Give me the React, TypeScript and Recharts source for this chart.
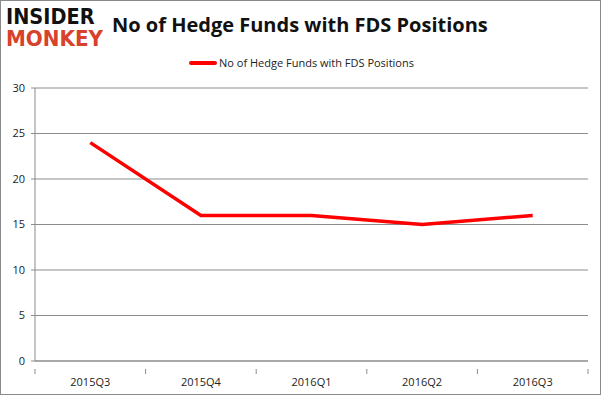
import React from 'react';
import { LineChart, Line, XAxis, YAxis, CartesianGrid } from 'recharts';

const quarters = ['2015Q3', '2015Q4', '2016Q1', '2016Q2', '2016Q3'];
const fundCounts = [24, 16, 16, 15, 16];
const yTicks = [0, 5, 10, 15, 20, 25, 30];
const seriesName = 'No of Hedge Funds with FDS Positions';

// each quarter sits in the middle of its band on a 0..5 numeric axis
const data = quarters.map((q, i) => ({ quarter: q, pos: i + 0.5, funds: fundCounts[i] }));
// integer ticks = band edges (tick marks), half ticks = labels
const xTicks = [0, 0.5, 1, 1.5, 2, 2.5, 3, 3.5, 4, 4.5, 5];

const FONT = 'Open Sans, Noto Sans, sans-serif';
const AXIS_GRAY = '#8c8c8c';

const XTick = (props: any) => {
  const { x, y, payload } = props;
  const v = payload.value as number;
  if (Number.isInteger(v)) {
    return <line x1={x} y1={y} x2={x} y2={y + 5} stroke={AXIS_GRAY} />;
  }
  return (
    <text x={x} y={y + 17} textAnchor="middle" fill="#222" fontSize={11} fontFamily={FONT}>
      {quarters[Math.floor(v)]}
    </text>
  );
};

const App: React.FC = () => {
  return (
    <div style={{ position: 'absolute', left: 0, top: 0, width: 601, height: 395, background: '#fff', boxSizing: 'border-box', border: '1px solid #8a8a8a', fontFamily: FONT }}>
      <div style={{ position: 'absolute', left: 5, top: 5, lineHeight: '22px', fontFamily: 'DejaVu Sans, sans-serif', fontWeight: 900 }}>
        <div style={{ fontSize: 21, color: '#111', transform: 'scaleX(0.92)', transformOrigin: 'left' }}>INSIDER</div>
        <div style={{ fontSize: 21, color: '#d8412c', transform: 'scaleX(0.95)', transformOrigin: 'left' }}>MONKEY</div>
      </div>
      <div style={{ position: 'absolute', left: 111, top: 10, fontSize: 20, fontWeight: 700, color: '#111', whiteSpace: 'nowrap' }}>
        No of Hedge Funds with FDS Positions
      </div>
      <div style={{ position: 'absolute', left: 0, top: 54, width: 601, display: 'flex', alignItems: 'center', justifyContent: 'center', fontSize: 11, color: '#222' }}>
        <span style={{ display: 'inline-block', width: 28, height: 4, background: '#ff0000', borderRadius: 2, marginRight: 2 }} />
        <span>{seriesName}</span>
      </div>
      <div style={{ position: 'absolute', left: -1, top: -1 }}>
        <LineChart width={601} height={395} data={data} margin={{ top: 88, right: 13, bottom: 4, left: 0 }}>
          <CartesianGrid vertical={false} stroke={AXIS_GRAY} strokeWidth={1} />
          <XAxis
            type="number"
            dataKey="pos"
            domain={[0, 5]}
            ticks={xTicks}
            interval={0}
            height={30}
            axisLine={{ stroke: AXIS_GRAY }}
            tickLine={false}
            tick={<XTick />}
          />
          <YAxis
            domain={[0, 30]}
            ticks={yTicks}
            width={35}
            axisLine={{ stroke: AXIS_GRAY }}
            tickLine={{ stroke: AXIS_GRAY }}
            tickSize={4}
            tickMargin={6}
            tick={{ fill: '#222', fontSize: 11, fontFamily: FONT }}
          />
          <Line
            type="linear"
            dataKey="funds"
            name={seriesName}
            stroke="#ff0000"
            strokeWidth={3.5}
            dot={false}
            isAnimationActive={false}
          />
        </LineChart>
      </div>
    </div>
  );
};

export default App;
